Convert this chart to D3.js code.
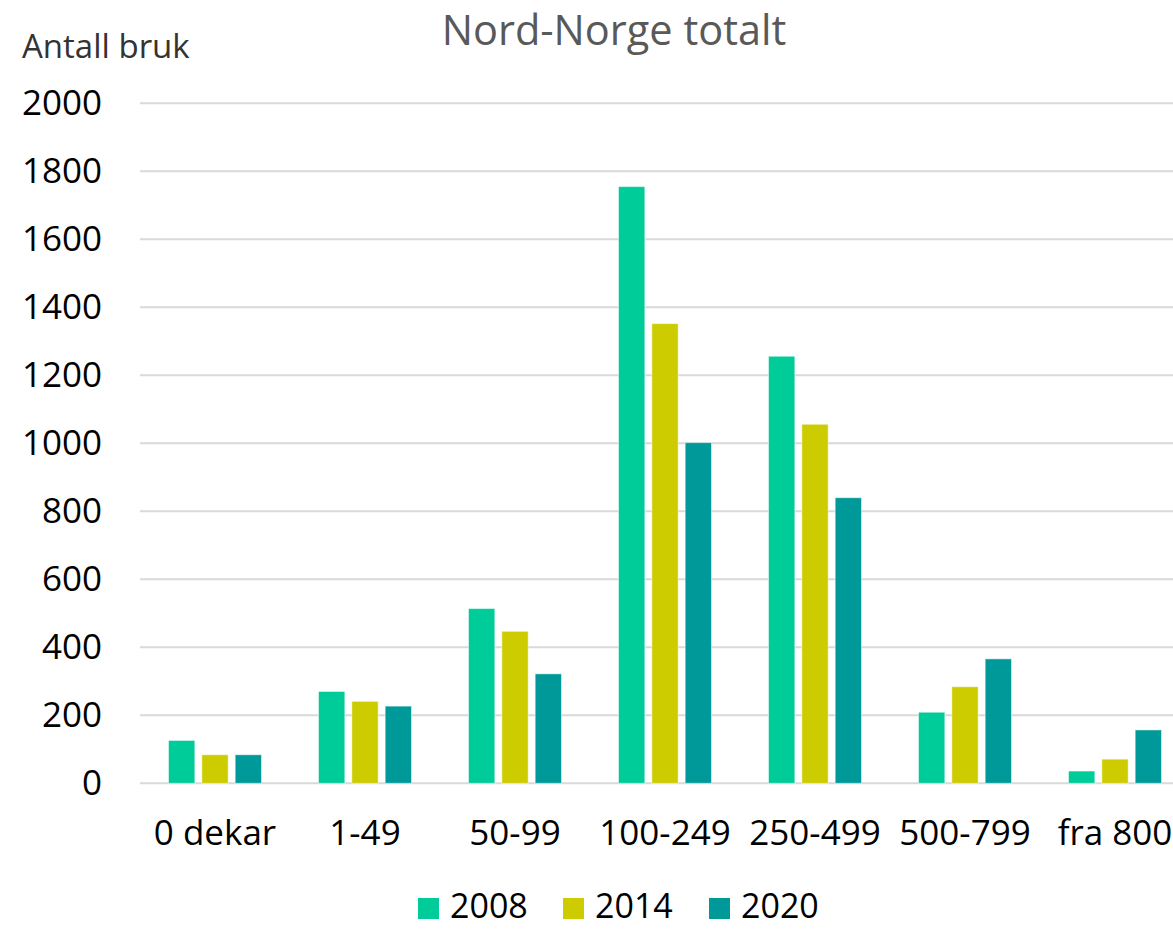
<!DOCTYPE html>
<html><head><meta charset="utf-8">
<script src="https://cdn.jsdelivr.net/npm/d3@7"></script>
<style>body{margin:0;background:#fff}svg{display:block}</style>
</head><body>
<script>
const categories = ["0 dekar","1-49","50-99","100-249","250-499","500-799","fra 800"];
const years = ["2008","2014","2020"];
const values2008 = [126,270,514,1755,1256,209,36];
const values2014 = [84,241,447,1352,1056,284,71];
const values2020 = [84,227,322,1002,840,366,157];
const yTicks = [0,200,400,600,800,1000,1200,1400,1600,1800,2000];
const colors = ["#00CC99","#CCCC00","#009999"];
const title = "Nord-Norge totalt";
const yTitle = "Antall bruk";

const series = [values2008, values2014, values2020];
const W = 1173, H = 929;
const svg = d3.select("body").append("svg").attr("width", W).attr("height", H);
const font = "'Open Sans', sans-serif";

const y = d3.scaleLinear().domain([0,2000]).range([783.3,103.3]);
const x0 = d3.scaleBand().domain(categories).range([140,1190]).paddingInner(0.38).paddingOuter(0.19);
const x1 = d3.scaleBand().domain(years).range([0,x0.bandwidth()]).paddingInner(0.21);

// gridlines
svg.append("g").selectAll("line").data(yTicks).join("line")
  .attr("x1",140).attr("x2",W)
  .attr("y1",d=>y(d)).attr("y2",d=>y(d))
  .attr("stroke","#d9d9d9").attr("stroke-width",2);

// y axis labels
const yAxis = d3.axisLeft(y).tickValues(yTicks).tickFormat(d3.format("d")).tickSize(0).tickPadding(0);
const ya = svg.append("g").attr("transform","translate(102,0)").call(yAxis);
ya.select(".domain").remove();
ya.selectAll("text").attr("font-family",font).attr("font-size",35).attr("fill","#000");

// bars
const groups = svg.append("g").selectAll("g").data(categories).join("g")
  .attr("transform",d=>`translate(${x0(d)},0)`);
groups.selectAll("rect").data((c,i)=>years.map((yr,j)=>({yr,j,v:series[j][i]}))).join("rect")
  .attr("x",d=>x1(d.yr)).attr("width",x1.bandwidth())
  .attr("y",d=>y(d.v)).attr("height",d=>y(0)-y(d.v))
  .attr("fill",d=>colors[d.j])
  .attr("stroke","rgba(255,255,255,0.5)").attr("stroke-width",1);

// x axis labels
const xAxis = d3.axisBottom(x0).tickSize(0).tickPadding(0);
const xa = svg.append("g").attr("transform","translate(0,810)").call(xAxis);
xa.select(".domain").remove();
xa.selectAll("text").attr("font-family",font).attr("font-size",35).attr("fill","#000").attr("dy","1em");

// titles
svg.append("text").attr("x",614).attr("y",45).attr("text-anchor","middle")
  .attr("font-family",font).attr("font-size",41.5).attr("fill","#595959").text(title);
svg.append("text").attr("x",22).attr("y",58)
  .attr("font-family",font).attr("font-size",33).attr("fill","#333").text(yTitle);

// legend
const legX = [418,563,709];
const leg = svg.append("g").selectAll("g").data(years).join("g")
  .attr("transform",(d,i)=>`translate(${legX[i]},898)`);
leg.append("rect").attr("width",21).attr("height",21).attr("fill",(d,i)=>colors[i]);
leg.append("text").attr("x",32).attr("y",20).attr("font-family",font).attr("font-size",34)
  .attr("fill","#000").text(d=>d);
</script>
</body></html>
